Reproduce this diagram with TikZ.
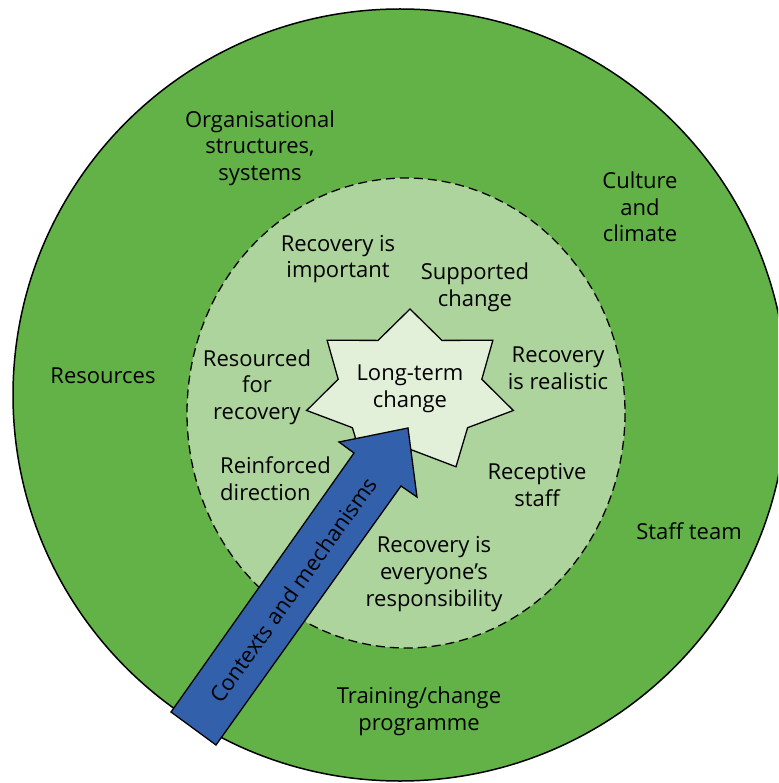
\documentclass[tikz,border=0pt]{standalone}
\usepackage{fontspec}
\setmainfont{Open Sans}
\definecolor{outergreen}{RGB}{98,178,72}
\definecolor{innergreen}{RGB}{173,212,157}
\definecolor{starfill}{RGB}{226,240,218}
\definecolor{arrowblue}{RGB}{51,96,170}
\begin{document}
\begin{tikzpicture}[x=1pt,y=-1pt,
  lbl/.style={align=center,font=\fontsize{22}{26.7}\selectfont,inner sep=0pt},
  ring/.style={draw=black,line width=1.5pt,fill=outergreen},
  inner/.style={draw=black,line width=1.3pt,dash pattern=on 9pt off 5pt,fill=innergreen},
  starshape/.style={draw=black,line width=1.3pt,fill=starfill,line join=miter},
  arrowshape/.style={draw=black,line width=1.3pt,fill=arrowblue,line join=miter}]
\useasboundingbox (0,0) rectangle (778,783);
\clip (0,0) rectangle (778,783);
% outer ring
\coordinate (oc) at (400,395);
\draw[ring] (oc) ellipse [x radius=387, y radius=386];
% inner dashed region
\coordinate (ic) at (406,413);
\draw[inner] (ic) ellipse [x radius=219, y radius=235];
% star
\coordinate (sc) at (410,392);
\draw[starshape] plot[samples at={0,1,...,13}, variable=\i]
  ({410+106*(1-0.305*mod(\i,2))*cos(90+\i*180/7)},
   {392-83*(1-0.31*mod(\i,2))*sin(90+\i*180/7)}) -- cycle;
% arrow
\coordinate (t1) at (171,712);
\coordinate (s1) at (354,453);
\coordinate (b1) at (339,442);
\coordinate (tip) at (408,428);
\coordinate (b2) at (417,497);
\coordinate (s2) at (401,486);
\coordinate (t2) at (216,745);
\draw[arrowshape] (t1) -- (s1) -- (b1) -- (tip) -- (b2) -- (s2) -- (t2) -- cycle;
\node[lbl,rotate=54.6] (ctx) at (293,590) {Contexts and mechanisms};
% outer labels
\node[lbl] (org) at (260,148) {Organisational\\structures,\\systems};
\node[lbl] (cul) at (640,207) {Culture\\and\\climate};
\node[lbl] (res) at (103,376) {Resources};
\node[lbl] (stf) at (689,531) {Staff team};
\node[lbl] (trn) at (419,711) {Training/change\\programme};
% inner labels
\node[lbl] (imp) at (338,259) {Recovery is\\important};
\node[lbl] (sup) at (475,287) {Supported\\change};
\node[lbl] (rfr) at (257,387) {Resourced\\for\\recovery};
\node[lbl] (ltc) at (410,389) {Long-term\\change};
\node[lbl] (rea) at (558,368) {Recovery\\is realistic};
\node[lbl,align=left,anchor=west] (rdir) at (220,479) {Reinforced\\direction};
\node[lbl] (rec) at (537,485) {Receptive\\staff};
\node[lbl] (evr) at (434,574) {Recovery is\\everyone’s\\responsibility};
\end{tikzpicture}
\end{document}
